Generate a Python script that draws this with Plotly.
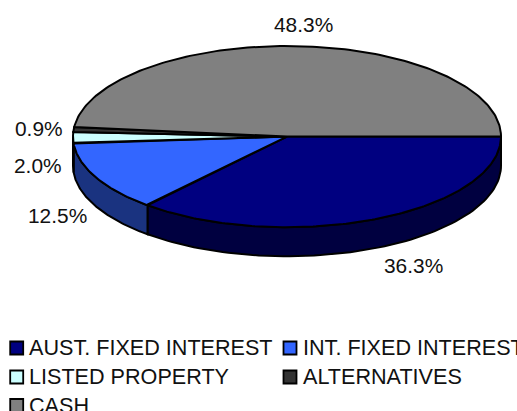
import numpy as np
import plotly.graph_objects as go

categories = ["AUST. FIXED INTEREST", "INT. FIXED INTEREST", "LISTED PROPERTY", "ALTERNATIVES", "CASH"]
values = [36.3, 12.5, 2.0, 0.9, 48.3]
top_colors = ["#000080", "#3366FF", "#CCFFFF", "#333333", "#808080"]
side_colors = ["#000040", "#1A3380", "#668080", "#1A1A1A", "#404040"]
value_labels = ["36.3%", "12.5%", "2.0%", "0.9%", "48.3%"]
label_pos = [(413, 265.5), (57, 215), (38, 165), (39, 128.5), (303, 24.5)]
legend_pos = [(16.7, 348), (290, 348), (16.7, 377), (290, 377), (16.7, 405.5)]

W, H = 517, 411
CX, CY, RX, RY, DEPTH = 287, 136.6, 214, 90.6, 29
FONT = "Liberation Sans, Arial, sans-serif"
FS = 20.9
FS_LEG = 21.6
LW = 2

def px(a, r=1.0):
    return CX + RX * r * np.cos(a), CY + RY * r * np.sin(a)

fig = go.Figure()
edges = np.cumsum([0] + values) / sum(values) * 2 * np.pi

# visible outer walls
for i in range(len(values)):
    a0, a1 = edges[i], min(edges[i + 1], np.pi)
    if a0 >= np.pi:
        continue
    t = np.linspace(a0, a1, 80)
    x, y = px(t)
    fig.add_trace(go.Scatter(
        x=np.r_[x, x[::-1], x[0]], y=np.r_[y, y[::-1] + DEPTH, y[0]],
        mode="lines", fill="toself", fillcolor=side_colors[i],
        line=dict(color="black", width=LW), hoverinfo="skip", showlegend=False))

# top faces
for i in range(len(values)):
    t = np.linspace(edges[i], edges[i + 1], 160)
    x, y = px(t)
    fig.add_trace(go.Scatter(
        x=np.r_[CX, x, CX], y=np.r_[CY, y, CY],
        mode="lines", fill="toself", fillcolor=top_colors[i],
        line=dict(color="black", width=LW), name=categories[i],
        text=value_labels[i], hoverinfo="name+text", showlegend=False))

anns = []
for (x, y), s in zip(label_pos, value_labels):
    anns.append(dict(x=x, y=y, text=s, xref="x", yref="y", showarrow=False,
                     xanchor="center", yanchor="middle",
                     font=dict(family=FONT, size=FS, color="#111111")))
shapes = []
for (x, y), s, c in zip(legend_pos, categories, top_colors):
    shapes.append(dict(type="rect", xref="x", yref="y", x0=x - 6.5, x1=x + 6.5, y0=y - 6.5, y1=y + 6.5,
                       fillcolor=c, line=dict(color="black", width=1.8)))
    anns.append(dict(x=x + 10.5, y=y - 0.5, text=s, xref="x", yref="y", showarrow=False,
                     xanchor="left", yanchor="middle",
                     font=dict(family=FONT, size=FS_LEG, color="#111111")))

fig.update_layout(
    width=W, height=H, margin=dict(l=0, r=0, t=0, b=0),
    paper_bgcolor="white", plot_bgcolor="white", showlegend=False,
    xaxis=dict(range=[0, W], visible=False, fixedrange=True),
    yaxis=dict(range=[H, 0], visible=False, fixedrange=True),
    annotations=anns, shapes=shapes)
fig.write_html("out.html", config=dict(displayModeBar=False),
               post_script="document.body.style.margin='0';document.body.style.overflow='hidden';")
